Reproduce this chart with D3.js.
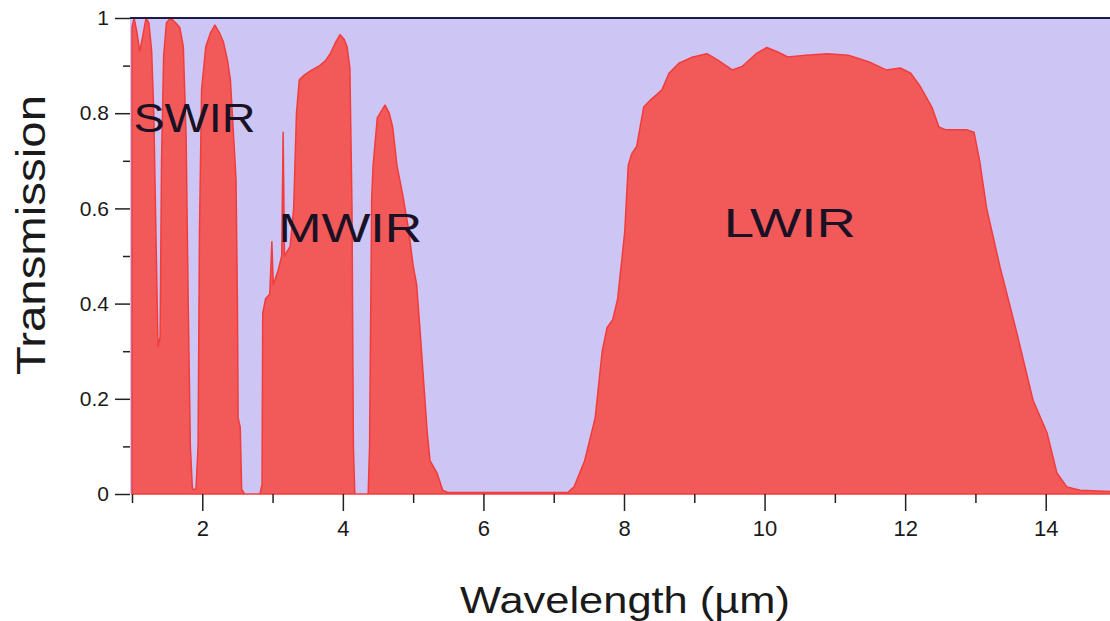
<!DOCTYPE html>
<html>
<head>
<meta charset="utf-8">
<script src="https://cdn.jsdelivr.net/npm/d3@7"></script>
<style>
  html, body { margin: 0; padding: 0; background: #ffffff; }
  svg { display: block; }
  text { font-family: "Liberation Sans", Arial, sans-serif; }
</style>
</head>
<body>
<svg id="chart" width="1110" height="621"></svg>
<script>
// ---- data ----
const wavelength = [
  1.00, 1.03, 1.07, 1.11, 1.15, 1.20, 1.24, 1.28, 1.31, 1.34, 1.37, 1.40, 1.42, 1.45, 1.49,
  1.55, 1.62, 1.68, 1.73, 1.77, 1.80, 1.83, 1.86, 1.91, 1.94, 1.96, 1.99, 2.05, 2.12, 2.18,
  2.24, 2.30, 2.36, 2.40, 2.45, 2.48, 2.50, 2.51, 2.54, 2.56, 2.60, 2.82,
  2.85, 2.86, 2.90, 2.96, 2.99, 3.01, 3.08, 3.13, 3.15, 3.17, 3.25, 3.30, 3.34, 3.38, 3.45,
  3.55, 3.67, 3.75, 3.82, 3.90, 3.96, 4.02, 4.06, 4.10, 4.13, 4.15, 4.17, 4.36,
  4.38, 4.41, 4.43, 4.49, 4.57, 4.60, 4.66, 4.71, 4.77, 4.85, 4.93, 5.00, 5.05, 5.10, 5.20,
  5.24, 5.34, 5.42, 5.50, 7.20,
  7.29, 7.44, 7.59, 7.69, 7.76, 7.84, 7.91, 8.01, 8.06, 8.11, 8.18, 8.28, 8.38, 8.54, 8.64,
  8.78, 8.98, 9.18, 9.33, 9.54, 9.68, 9.88, 10.03, 10.18, 10.33, 10.59, 10.89, 11.19, 11.48,
  11.73, 11.93, 12.08, 12.22, 12.38, 12.48, 12.58, 12.88, 12.98, 13.06, 13.16, 13.35, 13.59,
  13.82, 14.02, 14.16, 14.30, 14.49, 15.00
];
const transmission = [
  0.98, 1.00, 0.97, 0.93, 0.96, 1.00, 0.99, 0.93, 0.80, 0.55, 0.31, 0.33, 0.70, 0.92, 0.99,
  1.00, 0.99, 0.98, 0.94, 0.75, 0.40, 0.10, 0.01, 0.01, 0.10, 0.55, 0.85, 0.94, 0.97, 0.985,
  0.97, 0.95, 0.91, 0.87, 0.74, 0.66, 0.40, 0.16, 0.14, 0.01, 0.00, 0.00,
  0.02, 0.38, 0.41, 0.42, 0.53, 0.44, 0.47, 0.50, 0.76, 0.50, 0.52, 0.60, 0.80, 0.87, 0.88,
  0.89, 0.90, 0.91, 0.925, 0.95, 0.965, 0.955, 0.94, 0.895, 0.60, 0.10, 0.00, 0.00,
  0.10, 0.62, 0.69, 0.79, 0.81, 0.817, 0.80, 0.77, 0.69, 0.63, 0.56, 0.48, 0.44, 0.34, 0.13,
  0.07, 0.044, 0.008, 0.003, 0.003,
  0.015, 0.07, 0.16, 0.30, 0.35, 0.366, 0.41, 0.55, 0.69, 0.715, 0.73, 0.813, 0.828, 0.849, 0.884,
  0.905, 0.918, 0.925, 0.912, 0.891, 0.898, 0.925, 0.938, 0.929, 0.918, 0.922, 0.925, 0.922, 0.908,
  0.891, 0.895, 0.884, 0.855, 0.813, 0.771, 0.765, 0.765, 0.76, 0.70, 0.60, 0.477, 0.338,
  0.197, 0.128, 0.044, 0.015, 0.008, 0.005
];
const xMajorTicks = [2, 4, 6, 8, 10, 12, 14];
const xMinorTicks = [1, 3, 5, 7, 9, 11, 13, 15];
const yMajorTicks = [0, 0.2, 0.4, 0.6, 0.8, 1];
const yMinorTicks = [0.1, 0.3, 0.5, 0.7, 0.9];
const yTickLabels = ["0", "0.2", "0.4", "0.6", "0.8", "1"];
const bandNames = ["SWIR", "MWIR", "LWIR"];
const bandLabelX = [1.02, 3.08, 9.42];
const bandLabelY = [0.76, 0.53, 0.54];

const data = wavelength.map((w, i) => ({ w, t: transmission[i] }));

// ---- layout ----
const svg = d3.select("#chart");
const x = d3.scaleLinear().domain([1, 15]).range([132, 1116]);
const y = d3.scaleLinear().domain([0, 1]).range([494, 18]);
const plotLeft = 130, plotRight = 1110;

svg.append("defs").append("clipPath").attr("id", "plotclip")
  .append("rect").attr("x", plotLeft).attr("y", y(1)).attr("width", plotRight - plotLeft).attr("height", y(0) - y(1) + 1);

// background
svg.append("rect")
  .attr("x", plotLeft).attr("y", y(1))
  .attr("width", plotRight - plotLeft).attr("height", y(0) - y(1))
  .attr("fill", "#cdc5f4");

// area
const area = d3.area()
  .x(d => x(d.w))
  .y0(y(0))
  .y1(d => y(d.t))
  .curve(d3.curveLinear);

svg.append("g").attr("clip-path", "url(#plotclip)")
  .append("path")
  .datum(data)
  .attr("d", area)
  .attr("fill", "#f25959")
  .attr("stroke", "#f23c3c")
  .attr("stroke-width", 1.5)
  .attr("stroke-linejoin", "round");

// top border
svg.append("line")
  .attr("x1", plotLeft).attr("x2", plotRight)
  .attr("y1", y(1)).attr("y2", y(1))
  .attr("stroke", "#1c1c4c").attr("stroke-width", 2);

// y axis
const yAxis = d3.axisLeft(y)
  .tickValues(yMajorTicks)
  .tickFormat((d, i) => yTickLabels[i])
  .tickSize(15).tickPadding(6);
const gy = svg.append("g").attr("transform", `translate(${plotLeft},0)`).call(yAxis);
gy.select(".domain").remove();
gy.selectAll(".tick line").attr("stroke", "#222").attr("stroke-width", 1.5);
gy.selectAll(".tick text").attr("font-size", 21).attr("fill", "#1a1a1a")
  .attr("font-family", "Liberation Sans, Arial, sans-serif");

const yAxisMinor = d3.axisLeft(y).tickValues(yMinorTicks).tickSize(7).tickFormat("");
const gym = svg.append("g").attr("transform", `translate(${plotLeft},0)`).call(yAxisMinor);
gym.select(".domain").remove();
gym.selectAll(".tick line").attr("stroke", "#222").attr("stroke-width", 1.5);

// x axis
const xAxis = d3.axisBottom(x).tickValues(xMajorTicks).tickSize(17).tickPadding(9)
  .tickFormat(d3.format("d"));
const gx = svg.append("g").attr("transform", `translate(0,${y(0)})`).call(xAxis);
gx.select(".domain").remove();
gx.selectAll(".tick line").attr("stroke", "#222").attr("stroke-width", 1.5);
gx.selectAll(".tick text").attr("font-size", 22).attr("fill", "#1a1a1a")
  .attr("font-family", "Liberation Sans, Arial, sans-serif");

const xAxisMinor = d3.axisBottom(x).tickValues(xMinorTicks).tickSize(9).tickFormat("");
const gxm = svg.append("g").attr("transform", `translate(0,${y(0)})`).call(xAxisMinor);
gxm.select(".domain").remove();
gxm.selectAll(".tick line").attr("stroke", "#222").attr("stroke-width", 1.5);

// axis titles
svg.append("text")
  .attr("x", 460).attr("y", 613)
  .attr("font-size", 37).attr("fill", "#1a1a1a")
  .attr("textLength", 330).attr("lengthAdjust", "spacingAndGlyphs")
  .text("Wavelength (\u00b5m)");

svg.append("text")
  .attr("transform", "translate(45,375) rotate(-90)")
  .attr("x", 0).attr("y", 0)
  .attr("font-size", 40).attr("fill", "#1a1a1a")
  .attr("textLength", 280).attr("lengthAdjust", "spacingAndGlyphs")
  .text("Transmission");

// band labels
const labelLen = [122, 144, 132];
bandNames.forEach((name, i) => {
  svg.append("text")
    .attr("x", x(bandLabelX[i])).attr("y", y(bandLabelY[i]))
    .attr("font-size", 41).attr("fill", "#1a1224")
    .attr("textLength", labelLen[i]).attr("lengthAdjust", "spacingAndGlyphs")
    .text(name);
});
</script>
</body>
</html>
